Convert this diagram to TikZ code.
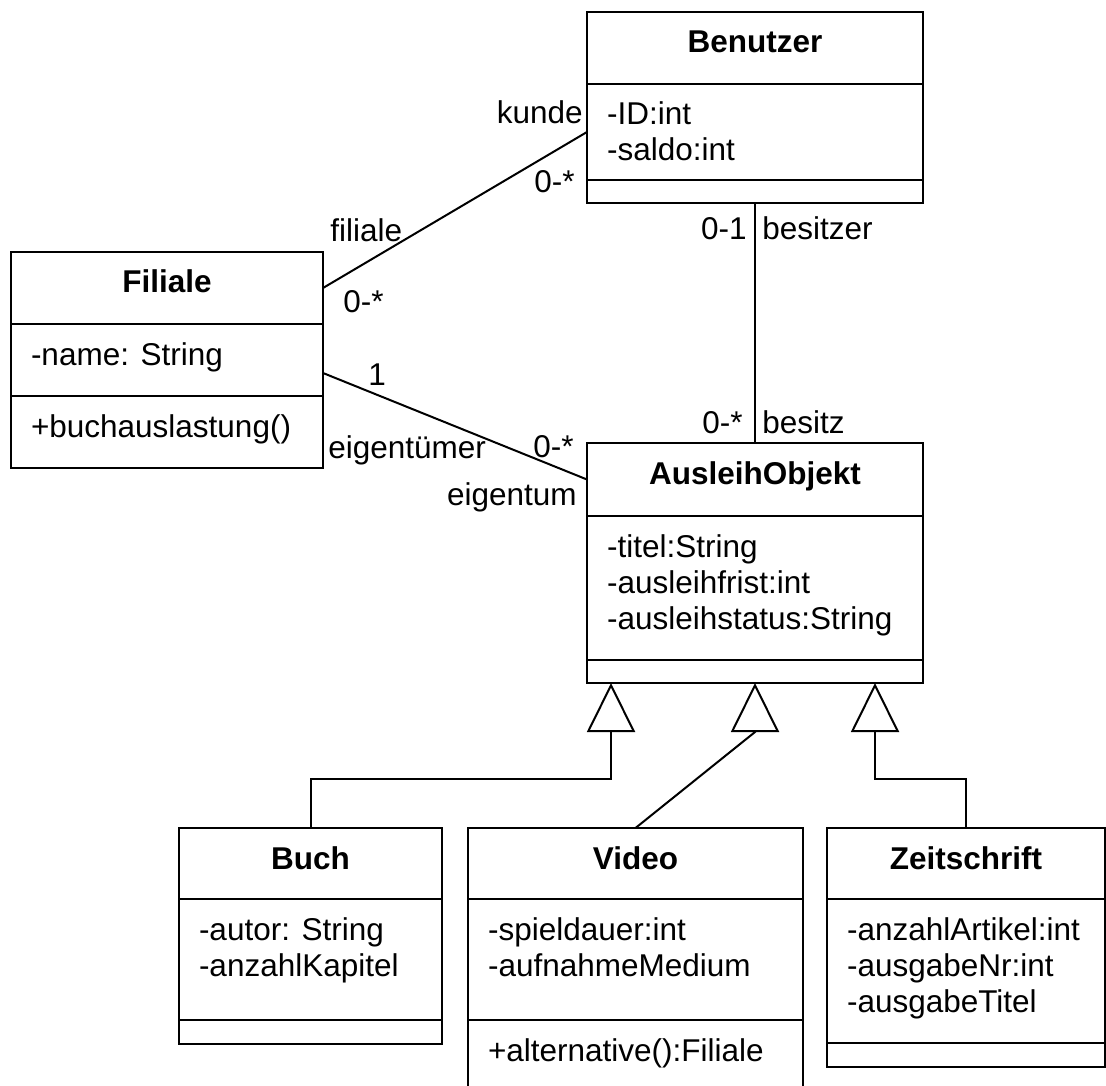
\documentclass[tikz,border=0pt]{standalone}
\usepackage{fontspec}
\setmainfont{Liberation Sans}
\usetikzlibrary{arrows.meta,positioning}
% compartments of a class box: width, height, text
\newcommand{\cname}[3]{\parbox[c][#2][t]{#1}{\centering\bfseries\rule{0pt}{20.5pt}#3}}
\newcommand{\cbody}[3]{\parbox[c][#2][t]{#1}{\leftskip=10pt\rule{0pt}{20.5pt}#3}}

\begin{document}
\begin{tikzpicture}[
      x=0.5pt, y=-0.5pt,
      font=\fontsize{15.75}{18}\selectfont,
      part/.style={
        draw, line width=1pt,
        inner sep=0pt, outer sep=0pt
      },
      lbl/.style={inner sep=0pt},
      assoc/.style={line width=1pt},
      gen/.style={
        line width=1pt,
        -{Triangle[open, length=24.5pt, width=24pt]}
      }
    ]
      \useasboundingbox (0,0) rectangle (1106,1085);
      \clip (0,0) rectangle (1106,1085);

      % Benutzer
      \node[part, anchor=north west] (ben-t) at (587,12) {\cname{168pt}{36pt}{Benutzer}};
      \node[part, below=0pt of ben-t] (ben-a) {\cbody{168pt}{48pt}{-ID:int\\-saldo:int}};
      \node[part, below=0pt of ben-a, minimum width=168pt, minimum height=11.5pt] (ben-o) {};

      % Filiale
      \node[part, anchor=north west] (fil-t) at (11,252) {\cname{156pt}{36pt}{Filiale}};
      \node[part, below=0pt of fil-t] (fil-a) {\cbody{156pt}{36pt}{-name: String}};
      \node[part, below=0pt of fil-a] (fil-o) {\cbody{156pt}{36pt}{+buchauslastung()}};

      % AusleihObjekt
      \node[part, anchor=north west] (aus-t) at (587,443) {\cname{168pt}{36.5pt}{AusleihObjekt}};
      \node[part, below=0pt of aus-t] (aus-a) {\cbody{168pt}{72pt}{-titel:String\\-ausleihfrist:int\\-ausleihstatus:String}};
      \node[part, below=0pt of aus-a, minimum width=168pt, minimum height=11.5pt] (aus-o) {};

      % Buch
      \node[part, anchor=north west] (buch-t) at (179,828) {\cname{131.5pt}{35.5pt}{Buch}};
      \node[part, below=0pt of buch-t] (buch-a) {\cbody{131.5pt}{60.5pt}{-autor: String\\-anzahlKapitel}};
      \node[part, below=0pt of buch-a, minimum width=131.5pt, minimum height=12pt] (buch-o) {};

      % Video
      \node[part, anchor=north west] (vid-t) at (468,828) {\cname{167.5pt}{35.5pt}{Video}};
      \node[part, below=0pt of vid-t] (vid-a) {\cbody{167.5pt}{60.5pt}{-spieldauer:int\\-aufnahmeMedium}};
      \node[part, below=0pt of vid-a] (vid-o) {\cbody{167.5pt}{36pt}{+alternative():Filiale}};

      % Zeitschrift
      \node[part, anchor=north west] (zeit-t) at (827,828) {\cname{139pt}{35.5pt}{Zeitschrift}};
      \node[part, below=0pt of zeit-t] (zeit-a) {\cbody{139pt}{72pt}{-anzahlArtikel:int\\-ausgabeNr:int\\-ausgabeTitel}};
      \node[part, below=0pt of zeit-a, minimum width=139pt, minimum height=12pt] (zeit-o) {};

      % associations
      \draw[assoc] (fil-t.east) -- (ben-a.west);
      \draw[assoc] ([yshift=-6.5pt]fil-a.east) -- (aus-t.west);
      \draw[assoc] (ben-o.south) -- (aus-t.north);

      % role names and multiplicities
      \node[lbl, anchor=base east] (r-kunde) at (583,124) {kunde};
      \node[lbl, anchor=base east] (m-kunde) at (575,193) {0-*};
      \node[lbl, anchor=base west] (r-filiale) at (330,242) {filiale};
      \node[lbl, anchor=base west] (m-filiale) at (343,313) {0-*};
      \node[lbl, anchor=base west] (m-eigtmr) at (368,385) {1};
      \node[lbl, anchor=base west] (r-eigtmr) at (328,458) {eigentümer};
      \node[lbl, anchor=base west] (m-eigtm) at (533,457) {0-*};
      \node[lbl, anchor=base east] (r-eigtm) at (577,505) {eigentum};
      \node[lbl, anchor=base east] (m-bsitzer) at (747,240) {0-1};
      \node[lbl, anchor=base west] (r-bsitzer) at (762,240) {besitzer};
      \node[lbl, anchor=base east] (m-bsitz) at (743,433) {0-*};
      \node[lbl, anchor=base west] (r-bsitz) at (762,433) {besitz};

      % generalizations
      \draw[gen] (buch-t.north) -- ++(0,-49) -| ([xshift=12pt]aus-o.south west);
      \draw[gen] (vid-t.north) -- ([yshift=-24.5pt]aus-o.south) -- (aus-o.south);
      \draw[gen] (zeit-t.north) -- ++(0,-49) -| ([xshift=-24pt]aus-o.south east);
    \end{tikzpicture}
\end{document}
